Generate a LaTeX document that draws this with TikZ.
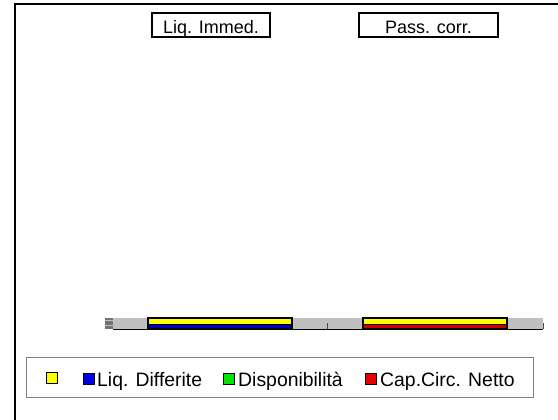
\documentclass[tikz,border=0pt]{standalone}
\usepackage{fontspec}
\setmainfont{Liberation Sans}
\definecolor{silver}{RGB}{192,192,192}
\definecolor{xyellow}{RGB}{255,255,0}
\definecolor{xblue}{RGB}{0,0,230}
\definecolor{xgreen}{RGB}{0,230,0}
\definecolor{xred}{RGB}{230,0,0}
\definecolor{legframe}{RGB}{128,128,128}
\begin{document}
\begin{tikzpicture}[x=1pt,y=-1pt,
  titlebox/.style={draw=black,line width=1.3pt,inner sep=0pt,text height=20.5pt,text depth=3.5pt,font=\fontsize{18}{20}\selectfont},
  seg/.style={inner sep=0pt,outer sep=0pt,minimum width=144pt},
  swatch/.style={draw=black,line width=0.5pt,inner sep=0pt,minimum size=11pt},
  legtext/.style={anchor=base west,inner sep=0pt,font=\fontsize{19.4}{21}\selectfont},
  tickline/.style={draw=black!70,line width=0.8pt}]
\useasboundingbox (0,0) rectangle (558,420);
% outer frame (left and top edges)
\coordinate (fbl) at (15,420);
\coordinate (ftl) at (15,4);
\coordinate (ftr) at (558,4);
\draw[line width=2pt] (fbl) -- (ftl) -- (ftr);
% titles
\node[titlebox,minimum width=118pt] (t1) at (211,25) {Liq. Immed.};
\node[titlebox,minimum width=139pt] (t2) at (428.5,25) {Pass. corr.};
% gray band
\node[fill=silver,inner sep=0pt,minimum width=430pt,minimum height=11pt] (band) at (328,323.5) {};
\draw[line width=0.6pt] (band.south west) -- (band.south east);
% small stack on the left
\node[fill=black!55,inner sep=0pt,minimum width=8pt,minimum height=11pt] (stack) at (109,323.5) {};
\coordinate (s1a) at (105,320.5); \coordinate (s1b) at (113,320.5);
\coordinate (s2a) at (105,325); \coordinate (s2b) at (113,325);
\draw[silver,line width=1pt] (s1a) -- (s1b) (s2a) -- (s2b);
% ticks
\coordinate (k1a) at (327,323); \coordinate (k1b) at (327,329);
\coordinate (k2a) at (543,323); \coordinate (k2b) at (543,329);
\draw[tickline] (k1a) -- (k1b) (k2a) -- (k2b);
% bar 1
\node[seg,fill=xyellow,minimum height=6.5pt] (b1y) at (220,321.25) {};
\node[seg,fill=xblue!80!black,minimum height=4.5pt] (b1b) at (220,326.75) {};
\draw[line width=1.4pt] (b1y.north west) rectangle (b1b.south east);
\draw[line width=1pt] (b1y.south west) -- (b1y.south east);
% bar 2
\node[seg,fill=xyellow,minimum height=6.5pt] (b2y) at (435,321.25) {};
\node[seg,fill=xred!90!black,minimum height=4.5pt] (b2r) at (435,326.75) {};
\draw[line width=1.4pt] (b2y.north west) rectangle (b2r.south east);
\draw[line width=1pt] (b2y.south west) -- (b2y.south east);
% legend
\node[draw=legframe,line width=0.8pt,inner sep=0pt,minimum width=507pt,minimum height=40pt] (legend) at (279.5,377) {};
\node[swatch,fill=xyellow] (sy) at (51.5,377.5) {};
\node[swatch,fill=xblue] (sb) at (88.5,378.5) {};
\node[legtext] (lb) at (97,386) {Liq. Differite};
\node[swatch,fill=xgreen] (sg) at (229,378.5) {};
\node[legtext] (lg) at (238,386) {Disponibilità};
\node[swatch,fill=xred] (sr) at (370.5,378.5) {};
\node[legtext] (lr) at (380,386) {Cap.Circ. Netto};
\end{tikzpicture}
\end{document}
